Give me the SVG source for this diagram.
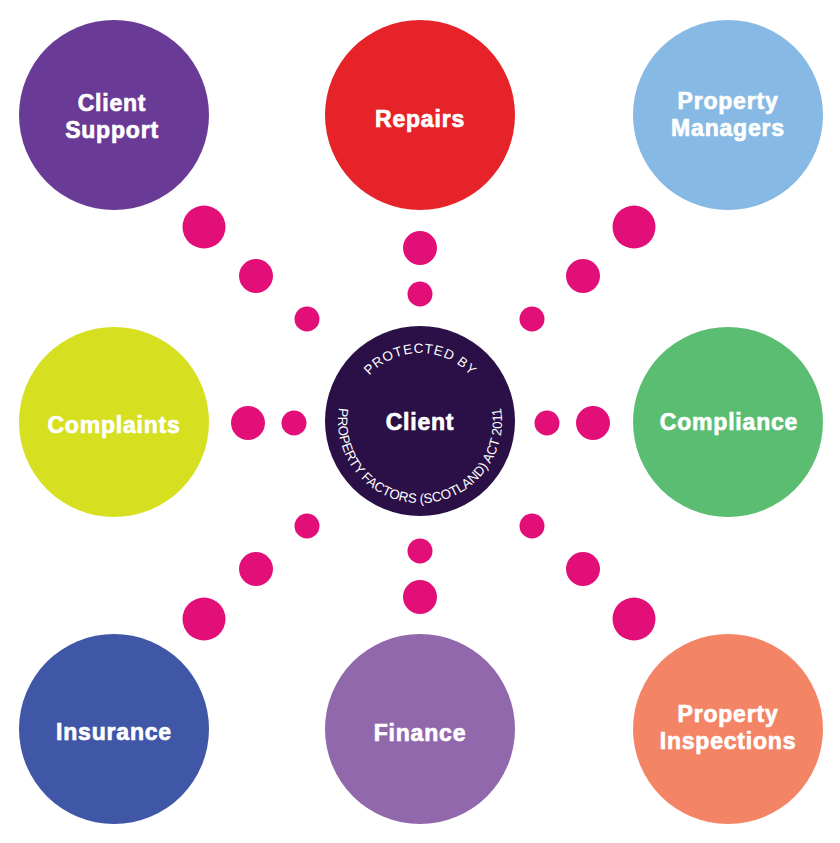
<svg xmlns="http://www.w3.org/2000/svg" xmlns:xlink="http://www.w3.org/1999/xlink" width="840" height="843" viewBox="0 0 840 843">
<style>
.lbl{font-family:"Liberation Sans",Arial,sans-serif;font-weight:700;font-size:23px;letter-spacing:0.8px;fill:#fff;stroke:#fff;stroke-width:0.7px;text-anchor:middle}
.arc{font-family:"Liberation Sans",Arial,sans-serif;font-size:13.5px;fill:#fff}
.dot{fill:#e30f78}
</style>
<defs>
<path id="topArc" d="M352,421 A68,68 0 0 1 488,421"/>
<path id="botArc" d="M343,393 A82,82 0 1 0 497,393"/>
</defs>
<rect width="840" height="843" fill="#fff"/>
<g id="connectors">
<circle class="dot" cx="204" cy="227" r="21.5"/><circle class="dot" cx="256" cy="276" r="17"/><circle class="dot" cx="307" cy="319" r="12.5"/>
<circle class="dot" cx="634" cy="227" r="21.5"/><circle class="dot" cx="583" cy="276" r="17"/><circle class="dot" cx="532" cy="319" r="12.5"/>
<circle class="dot" cx="204" cy="619" r="21.5"/><circle class="dot" cx="256" cy="569" r="17"/><circle class="dot" cx="307" cy="526" r="12.5"/>
<circle class="dot" cx="634" cy="619" r="21.5"/><circle class="dot" cx="583" cy="569" r="17"/><circle class="dot" cx="532" cy="526" r="12.5"/>
<circle class="dot" cx="420" cy="248" r="17"/><circle class="dot" cx="420" cy="294" r="12.5"/>
<circle class="dot" cx="420" cy="597" r="17"/><circle class="dot" cx="420" cy="551" r="12.5"/>
<circle class="dot" cx="248" cy="423" r="17"/><circle class="dot" cx="294" cy="423" r="12.5"/>
<circle class="dot" cx="593" cy="423" r="17"/><circle class="dot" cx="547" cy="423" r="12.5"/>
</g>
<g id="client-support"><circle cx="114" cy="115" r="95" fill="#6a3b96"/><text class="lbl" x="112" y="111">Client</text><text class="lbl" x="112" y="138">Support</text></g>
<g id="repairs"><circle cx="420" cy="115" r="95" fill="#e52329"/><text class="lbl" x="420" y="127">Repairs</text></g>
<g id="property-managers"><circle cx="728" cy="115" r="95" fill="#86b9e3"/><text class="lbl" x="728" y="109">Property</text><text class="lbl" x="728" y="136">Managers</text></g>
<g id="complaints"><circle cx="114" cy="422" r="95" fill="#d6e021"/><text class="lbl" x="114" y="433">Complaints</text></g>
<g id="client"><circle cx="420" cy="421" r="95" fill="#2a1046"/><text class="lbl" x="420" y="430">Client</text>
<text class="arc"><textPath href="#topArc" startOffset="50%" text-anchor="middle" textLength="114" lengthAdjust="spacing">PROTECTED BY</textPath></text>
<text class="arc"><textPath href="#botArc" startOffset="50%" text-anchor="middle" textLength="284" lengthAdjust="spacingAndGlyphs">PROPERTY FACTORS (SCOTLAND) ACT 2011</textPath></text>
</g>
<g id="compliance"><circle cx="728" cy="422" r="95" fill="#5abd72"/><text class="lbl" x="729" y="430">Compliance</text></g>
<g id="insurance"><circle cx="114" cy="729" r="95" fill="#4056a6"/><text class="lbl" x="114" y="740">Insurance</text></g>
<g id="finance"><circle cx="420" cy="729" r="95" fill="#9268ad"/><text class="lbl" x="420" y="741">Finance</text></g>
<g id="property-inspections"><circle cx="728" cy="729" r="95" fill="#f48466"/><text class="lbl" x="728" y="722">Property</text><text class="lbl" x="728" y="749">Inspections</text></g>
</svg>
